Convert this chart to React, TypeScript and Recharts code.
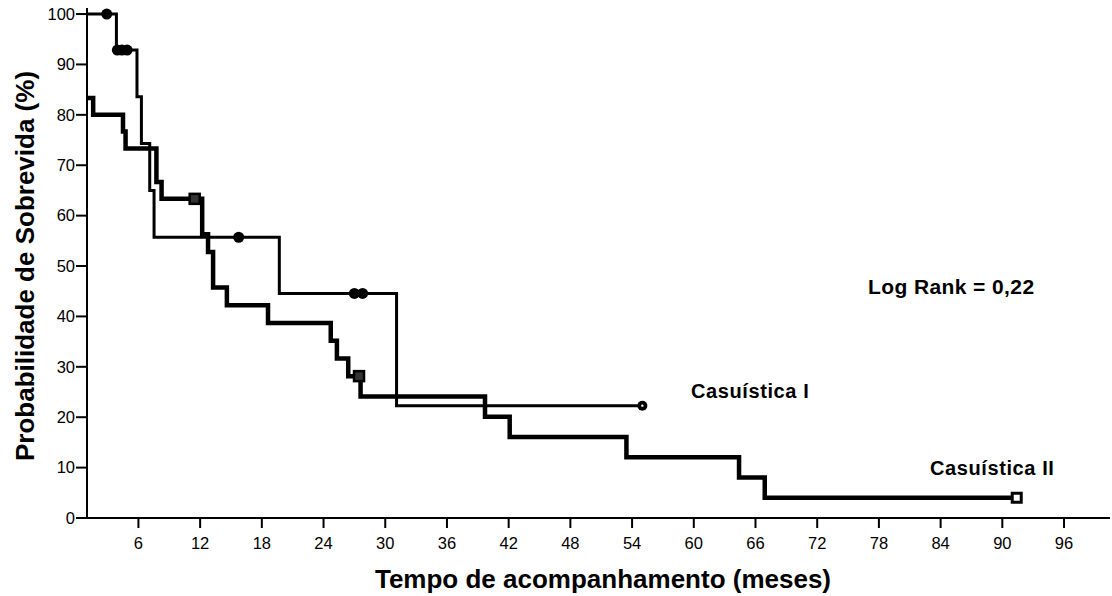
import React from "react";
import {
  ComposedChart,
  Line,
  Scatter,
  XAxis,
  YAxis,
} from "recharts";

// ---- Data ----
const xTicks = [6, 12, 18, 24, 30, 36, 42, 48, 54, 60, 66, 72, 78, 84, 90, 96];
const yTicks = [0, 10, 20, 30, 40, 50, 60, 70, 80, 90, 100];

// Casuística I (Kaplan-Meier step points)
const c1Times = [1, 3.86, 5.86, 6.29, 7.1, 7.52, 19.7, 31.1, 55];
const c1Values = [100, 92.86, 83.57, 74.29, 65.0, 55.71, 44.57, 22.29, 22.29];
const c1CensorTimes = [2.92, 3.95, 4.4, 4.9, 15.75, 27.0, 27.8];
const c1CensorValues = [100, 92.86, 92.86, 92.86, 55.71, 44.57, 44.57];
const c1LastCensorTime = [55];
const c1LastCensorValue = [22.29];

// Casuística II
const c2Times = [1, 1.6, 4.5, 4.75, 7.75, 8.25, 12.2, 12.77, 13.26, 14.6, 18.6, 24.7, 25.3, 26.4, 27.6, 39.7, 42.1, 53.45, 64.4, 66.9, 91.4];
const c2Values = [83.33, 80, 76.67, 73.33, 66.67, 63.33, 56.3, 52.78, 45.74, 42.22, 38.7, 35.19, 31.67, 28.15, 24.13, 20.11, 16.09, 12.07, 8.04, 4.02, 4.02];
const c2CensorTimes = [11.47, 27.45];
const c2CensorValues = [63.33, 28.15];
const c2LastCensorTime = [91.4];
const c2LastCensorValue = [4.02];

const zip = (ts: number[], vs: number[]) => ts.map((t, i) => ({ t, s: vs[i] }));

const c1Data = zip(c1Times, c1Values);
const c2Data = zip(c2Times, c2Values);
const c1Censor = zip(c1CensorTimes, c1CensorValues);
const c1LastCensor = zip(c1LastCensorTime, c1LastCensorValue);
const c2Censor = zip(c2CensorTimes, c2CensorValues);
const c2LastCensor = zip(c2LastCensorTime, c2LastCensorValue);

const FONT = "'Liberation Sans', Arial, Helvetica, sans-serif";

const CircleShape = (props: any) => (
  <circle cx={props.cx} cy={props.cy} r={5.5} fill="#000" />
);
const SmallCircleShape = (props: any) => (
  <g>
    <circle cx={props.cx} cy={props.cy} r={5} fill="#000" />
    <circle cx={props.cx} cy={props.cy} r={1.2} fill="#fff" />
  </g>
);
const SquareShape = (props: any) => (
  <rect x={props.cx - 5} y={props.cy - 5} width={10} height={10} fill="#333" stroke="#000" strokeWidth={2.5} />
);
const WhiteSquareShape = (props: any) => (
  <rect x={props.cx - 4.5} y={props.cy - 4.5} width={9} height={9} fill="#fff" stroke="#000" strokeWidth={3} />
);

export default function App() {
  return (
    <div style={{ position: "absolute", left: 0, top: 0, width: 1112, height: 596, background: "#fff" }}>
      <ComposedChart
        width={1112}
        height={596}
        margin={{ top: 8, right: 2, bottom: 0, left: 0 }}
      >
        <XAxis
          xAxisId="top"
          orientation="top"
          type="number"
          dataKey="t"
          domain={[1, 100.47]}
          allowDataOverflow
          height={0}
          tick={false}
          tickLine={false}
          axisLine={{ stroke: "#000", strokeWidth: 1.5 }}
        />
        <XAxis
          type="number"
          dataKey="t"
          domain={[1, 100.47]}
          allowDataOverflow
          ticks={xTicks}
          interval={0}
          height={78}
          tickSize={10}
          tickMargin={9}
          axisLine={{ stroke: "#000", strokeWidth: 2 }}
          tickLine={{ stroke: "#000", strokeWidth: 2 }}
          tick={{ fill: "#000", fontSize: 16.5, fontFamily: FONT }}
        />
        <YAxis
          type="number"
          domain={[0, 101.2]}
          allowDataOverflow
          ticks={yTicks}
          interval={0}
          width={87}
          tickSize={11}
          tickMargin={1}
          axisLine={{ stroke: "#000", strokeWidth: 2 }}
          tickLine={{ stroke: "#000", strokeWidth: 2 }}
          tick={{ fill: "#000", fontSize: 16.5, fontFamily: FONT }}
        />
        <Line
          data={c2Data}
          dataKey="s"
          type="stepAfter"
          stroke="#000"
          strokeWidth={4.5}
          dot={false}
          activeDot={false}
          isAnimationActive={false}
        />
        <Line
          data={c1Data}
          dataKey="s"
          type="stepAfter"
          stroke="#000"
          strokeWidth={3}
          dot={false}
          activeDot={false}
          isAnimationActive={false}
        />
        <Scatter data={c1Censor} dataKey="s" shape={CircleShape} isAnimationActive={false} />
        <Scatter data={c1LastCensor} dataKey="s" shape={SmallCircleShape} isAnimationActive={false} />
        <Scatter data={c2Censor} dataKey="s" shape={SquareShape} isAnimationActive={false} />
        <Scatter data={c2LastCensor} dataKey="s" shape={WhiteSquareShape} isAnimationActive={false} />
      </ComposedChart>
      <svg
        width={1112}
        height={596}
        style={{ position: "absolute", left: 0, top: 0, pointerEvents: "none" }}
      >
        <text
          x={0}
          y={0}
          transform="translate(34,266) rotate(-90)"
          textAnchor="middle"
          fontFamily={FONT}
          fontWeight="bold"
          fontSize={26}
          fill="#000"
        >
          Probabilidade de Sobrevida (%)
        </text>
        <text x={603} y={588} textAnchor="middle" fontFamily={FONT} fontWeight="bold" fontSize={26} fill="#000">
          Tempo de acompanhamento (meses)
        </text>
        <text x={868} y={294} fontFamily={FONT} fontWeight="bold" fontSize={21} letterSpacing={0.4} fill="#000">
          Log Rank = 0,22
        </text>
        <text x={691} y={398} fontFamily={FONT} fontWeight="bold" fontSize={20} letterSpacing={0.6} fill="#000">
          Casuística I
        </text>
        <text x={930} y={475} fontFamily={FONT} fontWeight="bold" fontSize={20} letterSpacing={0.6} fill="#000">
          Casuística II
        </text>
      </svg>
    </div>
  );
}
